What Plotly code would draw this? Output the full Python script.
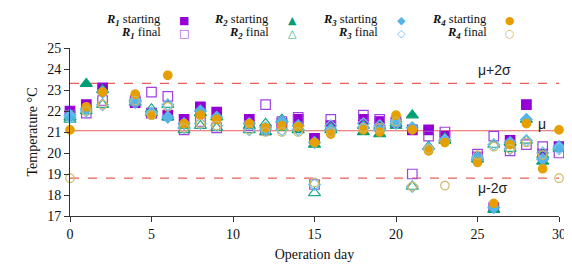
import plotly.graph_objects as go

days = [0, 1, 2, 4, 5, 6, 7, 8, 9, 11, 12, 13, 14, 15, 16, 18, 19, 20, 21, 22, 23, 25, 26, 27, 28, 29, 30]

r1_start = [22.0, 22.3, 23.1, 22.4, 21.9, 21.8, 21.6, 22.2, 21.95, 21.6, 21.1, 21.4, 21.6, 20.7, 21.3, 21.6, 21.5, 21.4, 21.1, 21.1, 20.8, 19.8, 17.4, 20.6, 22.3, 19.95, 20.3]
r1_final = [21.8, 21.9, 22.5, 22.5, 22.9, 22.7, 21.1, 21.5, 21.2, 21.3, 22.3, 21.5, 21.7, 18.5, 21.6, 21.8, 21.6, 21.5, 19.0, 20.8, 21.0, 19.95, 20.8, 20.1, 20.4, 20.3, 20.0]
r2_start = [21.7, 23.3, 23.0, 22.6, 21.9, 21.7, 21.3, 21.9, 21.7, 21.3, 21.0, 21.6, 21.1, 20.4, 21.1, 21.0, 20.9, 21.4, 21.8, 20.3, 20.6, 19.7, 17.3, 20.5, 21.6, 19.6, 20.3]
r2_final = [21.6, 22.0, 22.3, 22.4, 22.1, 22.3, 21.1, 21.3, 21.2, 21.1, 21.4, 21.2, 21.2, 18.1, 21.2, 21.3, 21.3, 21.3, 18.4, 20.3, 20.7, 19.8, 20.4, 20.2, 20.6, 19.9, 20.2]
r3_start = [21.8, 22.1, 22.9, 22.5, 21.9, 21.7, 21.4, 22.0, 21.7, 21.4, 21.1, 21.5, 21.3, 20.5, 21.1, 21.2, 21.1, 21.5, 21.2, 20.2, 20.6, 19.7, 17.4, 20.5, 21.6, 19.7, 20.3]
r3_final = [21.7, 22.0, 22.3, 22.4, 21.9, 22.3, 21.2, 21.4, 21.3, 21.1, 21.2, 21.1, 21.1, 18.5, 21.3, 21.4, 21.3, 21.4, 18.4, 20.2, 20.6, 19.8, 20.4, 20.2, 20.6, 20.0, 20.2]
r4_start = [21.1, 22.2, 22.9, 22.8, 21.8, 23.7, 21.4, 21.8, 21.6, 21.4, 21.2, 21.3, 21.25, 20.5, 20.9, 21.1, 21.0, 21.8, 21.1, 20.1, 20.5, 19.55, 17.6, 20.4, 21.4, 19.25, 21.1]
r4_final = [18.8, 22.0, 22.3, 22.5, 21.8, 22.2, 21.2, 21.4, 21.3, 21.1, 21.0, 21.0, 21.0, 18.6, 21.0, 21.2, 21.2, 21.5, 18.4, 20.2, 18.45, 19.9, 20.3, 20.2, 20.5, 19.9, 18.8]

MU = 21.06
SIGMA = 1.13

x_ticks = [0, 5, 10, 15, 20, 25, 30]
y_ticks = [17, 18, 19, 20, 21, 22, 23, 24, 25]

PURPLE = "#9400d3"
GREEN = "#009e73"
BLUE = "#56b4e9"
ORANGE = "#e69f00"
KHAKI = "#cdb866"
RED = "#e8605a"

SERIF = "Liberation Serif, Times New Roman, serif"

series = [
    ("R1 starting", r1_start, "square", PURPLE, 9.5, True),
    ("R1 final", r1_final, "square-open", "#a040e0", 9.5, False),
    ("R2 starting", r2_start, "triangle-up", GREEN, 10.5, True),
    ("R2 final", r2_final, "triangle-up-open", "#20a888", 10.5, False),
    ("R3 starting", r3_start, "diamond", BLUE, 9, True),
    ("R3 final", r3_final, "diamond-open", "#70c0ec", 9, False),
    ("R4 starting", r4_start, "circle", ORANGE, 8.5, True),
    ("R4 final", r4_final, "circle-open", KHAKI, 8.5, False),
]

fig = go.Figure()
for name, vals, sym, col, size, filled in series:
    fig.add_trace(go.Scatter(
        x=days, y=vals, mode="markers", name=name,
        marker=dict(symbol=sym, size=size, color=col,
                    line=dict(width=1.2, color=col)),
        cliponaxis=False, showlegend=False,
    ))

# reference lines
for val, dash in [(MU, "solid"), (MU + 2 * SIGMA, "dash"), (MU - 2 * SIGMA, "dash")]:
    fig.add_shape(type="line", xref="x", yref="y", x0=0, x1=30, y0=val, y1=val,
                  line=dict(color=RED, width=1.2, dash=dash), layer="below")

anns = [
    dict(x=24.9, y=MU + 2 * SIGMA + 0.65, text="μ+2σ"),
    dict(x=28.6, y=MU + 0.33, text="μ"),
    dict(x=24.9, y=MU - 2 * SIGMA - 0.47, text="μ-2σ"),
]
for a in anns:
    fig.add_annotation(xref="x", yref="y", showarrow=False, xanchor="left", yanchor="middle",
                       font=dict(family="Liberation Sans, Arial, sans-serif", size=14, color="#222"), **a)

# custom legend (text then symbol to the right)
legend_items = [
    ("1", "starting", "■", PURPLE, 155, 176, 12),
    ("1", "final", "□", "#a040e0", 155, 176, 25),
    ("2", "starting", "▲", GREEN, 263, 284, 12),
    ("2", "final", "△", "#20a888", 263, 284, 25),
    ("3", "starting", "◆", BLUE, 372, 393, 12),
    ("3", "final", "◇", "#70c0ec", 372, 393, 25),
    ("4", "starting", "●", ORANGE, 481, 502, 12),
    ("4", "final", "○", KHAKI, 481, 502, 25),
]
W, H = 572, 264
for idx, word, sym, col, tx, sx, ty in legend_items:
    fig.add_annotation(xref="paper", yref="paper", showarrow=False,
                       x=(tx - 61.7) / (551 - 61.7), y=(211 - ty) / (211 - 40),
                       xanchor="right", yanchor="middle",
                       text=f"<b><i>R</i></b><sub><b><i>{idx}</i></b></sub> {word}",
                       font=dict(family=SERIF, size=12.5, color="#111"))
    fig.add_annotation(xref="paper", yref="paper", showarrow=False,
                       x=(sx - 61.7) / (551 - 61.7), y=(211 - ty) / (211 - 40),
                       xanchor="center", yanchor="middle",
                       text=sym, font=dict(family="DejaVu Sans", size=11, color=col))

fig.update_layout(
    width=W, height=H,
    margin=dict(l=61.7, r=21, t=40, b=53),
    paper_bgcolor="white", plot_bgcolor="white",
    font=dict(family=SERIF, size=14, color="#111"),
    showlegend=False,
    xaxis=dict(range=[0, 30], tickvals=x_ticks, ticktext=[str(v) for v in x_ticks],
               showgrid=False, zeroline=False, showline=True, linecolor="#333",
               linewidth=1, ticks="outside", ticklen=5, tickcolor="#333",
               title=dict(text="Operation day", font=dict(family=SERIF, size=14), standoff=8),
               tickfont=dict(family=SERIF, size=14)),
    yaxis=dict(range=[17, 25], tickvals=y_ticks, ticktext=[str(v) for v in y_ticks],
               showgrid=False, zeroline=False, showline=True, linecolor="#333",
               linewidth=1, ticks="outside", ticklen=5, tickcolor="#333",
               title=dict(text="Temperature °C", font=dict(family=SERIF, size=14), standoff=6),
               tickfont=dict(family=SERIF, size=14)),
)

fig.write_html("out.html")
